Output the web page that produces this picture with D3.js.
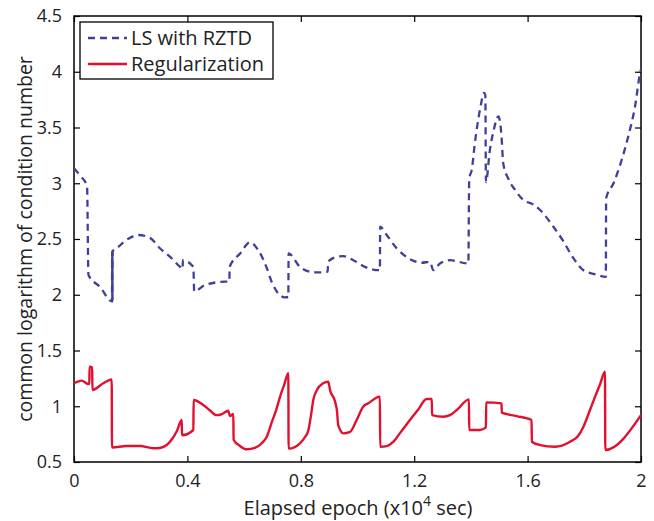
<!DOCTYPE html>
<html>
<head>
<meta charset="utf-8">
<script src="https://cdn.jsdelivr.net/npm/d3@7"></script>
<style>
  html, body { margin: 0; padding: 0; background: #ffffff; }
  svg { display: block; }
  text { font-family: "Open Sans", "Noto Sans", sans-serif; fill: #222; }
</style>
</head>
<body>
<svg id="chart" width="654" height="521"></svg>
<script>
// Elapsed epoch (x10^4 s) and log10 condition number, LS with RZTD
const epochLS = [0, 0.021, 0.046, 0.051, 0.092, 0.134, 0.1345, 0.135, 0.1355, 0.136, 0.1365,
  0.156, 0.19, 0.227, 0.268, 0.303, 0.339, 0.374, 0.383, 0.384, 0.421, 0.424,
  0.462, 0.533, 0.548, 0.549, 0.586, 0.621, 0.65, 0.68, 0.697, 0.721, 0.744, 0.756, 0.757,
  0.797, 0.832, 0.862, 0.895, 0.896, 0.927, 0.95, 0.985, 1.026, 1.079, 1.08,
  1.103, 1.138, 1.185, 1.226, 1.256, 1.267, 1.291, 1.326, 1.391, 1.394,
  1.403, 1.414, 1.432, 1.447, 1.451, 1.453, 1.467, 1.479, 1.497, 1.508, 1.514, 1.532, 1.556,
  1.585, 1.62, 1.644, 1.691, 1.726, 1.761, 1.797, 1.844, 1.876, 1.877,
  1.903, 1.932, 1.955, 1.979, 1.997, 2.0];
const condLS = [3.134, 3.07, 2.975, 2.177, 2.07, 1.94, 2.39, 1.95, 2.38, 1.96, 2.39,
  2.43, 2.5, 2.536, 2.51, 2.417, 2.34, 2.25, 2.23, 2.31, 2.25, 2.03,
  2.087, 2.117, 2.117, 2.25, 2.37, 2.47, 2.40, 2.24, 2.117, 2.01, 1.977, 1.98, 2.37,
  2.25, 2.207, 2.20, 2.207, 2.296, 2.34, 2.347, 2.31, 2.25, 2.22, 2.61,
  2.536, 2.417, 2.32, 2.287, 2.296, 2.22, 2.28, 2.31, 2.28, 3.04,
  3.12, 3.36, 3.66, 3.81, 3.79, 3.01, 3.30, 3.46, 3.60, 3.42, 3.18, 3.04, 2.94,
  2.85, 2.81, 2.76, 2.61, 2.48, 2.33, 2.22, 2.18, 2.16, 2.865,
  3.0, 3.21, 3.42, 3.69, 3.99, 4.02];

// Elapsed epoch (x10^4 s) and log10 condition number, Regularization
const epochReg = [0, 0.027, 0.05, 0.054, 0.055, 0.064, 0.065, 0.103, 0.133, 0.134,
  0.186, 0.233, 0.28, 0.303, 0.327, 0.346, 0.363, 0.38, 0.381, 0.421, 0.422,
  0.456, 0.48, 0.503, 0.522, 0.544, 0.55, 0.562, 0.563,
  0.586, 0.609, 0.638, 0.663, 0.68, 0.698, 0.713, 0.727, 0.741, 0.756, 0.757,
  0.797, 0.815, 0.827, 0.836, 0.844, 0.857, 0.879, 0.897, 0.903, 0.921, 0.928, 0.932, 0.95,
  0.974, 0.997, 1.02, 1.038, 1.079, 1.08,
  1.103, 1.126, 1.153, 1.185, 1.213, 1.244, 1.262, 1.263,
  1.303, 1.326, 1.35, 1.393, 1.394, 1.432, 1.453, 1.454, 1.508, 1.509,
  1.561, 1.614, 1.615, 1.644, 1.697, 1.75, 1.778, 1.797, 1.82, 1.838, 1.856, 1.873, 1.874, 2.0];
const condReg = [1.206, 1.23, 1.20, 1.20, 1.355, 1.35, 1.146, 1.206, 1.24, 0.63,
  0.643, 0.643, 0.623, 0.626, 0.652, 0.706, 0.778, 0.877, 0.74, 0.787, 1.056,
  1.011, 0.962, 0.92, 0.93, 0.96, 0.913, 0.93, 0.70,
  0.643, 0.614, 0.626, 0.67, 0.727, 0.859, 0.966, 1.086, 1.19, 1.296, 0.62,
  0.668, 0.724, 0.787, 0.92, 1.056, 1.146, 1.206, 1.22, 1.146, 1.04, 0.95, 0.83, 0.757,
  0.77, 0.877, 0.996, 1.026, 1.086, 0.637,
  0.643, 0.68, 0.77, 0.877, 0.966, 1.065, 1.065, 0.92,
  0.906, 0.92, 0.966, 1.062, 0.787, 0.787, 0.81, 1.035, 1.026, 0.942,
  0.912, 0.877, 0.682, 0.652, 0.637, 0.682, 0.733, 0.817, 0.966, 1.086, 1.2, 1.31, 0.608, 0.92];

const xTicks = [0, 0.4, 0.8, 1.2, 1.6, 2];
const yTicks = [0.5, 1, 1.5, 2, 2.5, 3, 3.5, 4, 4.5];
const seriesNames = ["LS with RZTD", "Regularization"];
const seriesColors = ["#40409a", "#e2102f"];

const svg = d3.select("#chart");
const m = { left: 74, top: 16, right: 641, bottom: 462 };

const x = d3.scaleLinear().domain([0, 2]).range([m.left, m.right]);
const y = d3.scaleLinear().domain([0.5, 4.5]).range([m.bottom, m.top]);

const tickLen = 6;

// Axes with inward ticks on all four sides
const gAxes = svg.append("g");
gAxes.append("g")
  .attr("transform", `translate(0,${m.bottom})`)
  .call(d3.axisBottom(x).tickValues(xTicks).tickSizeInner(-tickLen).tickSizeOuter(0).tickPadding(12).tickFormat(d3.format("")));
gAxes.append("g")
  .attr("transform", `translate(0,${m.top})`)
  .call(d3.axisTop(x).tickValues(xTicks).tickSizeInner(-tickLen).tickSizeOuter(0).tickFormat(""));
gAxes.append("g")
  .attr("transform", `translate(${m.left},0)`)
  .call(d3.axisLeft(y).tickValues(yTicks).tickSizeInner(-tickLen).tickSizeOuter(0).tickPadding(12).tickFormat(d3.format("")));
gAxes.append("g")
  .attr("transform", `translate(${m.right},0)`)
  .call(d3.axisRight(y).tickValues(yTicks).tickSizeInner(-tickLen).tickSizeOuter(0).tickFormat(""));

gAxes.selectAll(".domain").remove();
gAxes.selectAll(".tick line").attr("stroke", "#000").attr("stroke-width", 1.2);
gAxes.selectAll(".tick text").style("font-size", "18px").style("font-family", "'Open Sans', sans-serif").attr("fill", "#222");

svg.append("rect")
  .attr("x", m.left).attr("y", m.top)
  .attr("width", m.right - m.left).attr("height", m.bottom - m.top)
  .attr("fill", "none").attr("stroke", "#000").attr("stroke-width", 1.5);

// Curves
const line = d3.line().x(d => x(d[0])).y(d => y(d[1])).curve(d3.curveMonotoneX);
const lsData = epochLS.map((e, i) => [e, condLS[i]]);
const regData = epochReg.map((e, i) => [e, condReg[i]]);

const plot = svg.append("g");
plot.append("path").datum(regData)
  .attr("d", line).attr("fill", "none")
  .attr("stroke", seriesColors[1]).attr("stroke-width", 2.4)
  .attr("stroke-linejoin", "round");
plot.append("path").datum(lsData)
  .attr("d", line).attr("fill", "none")
  .attr("stroke", seriesColors[0]).attr("stroke-width", 2.3)
  .attr("stroke-dasharray", "7,5");

// Legend
const lg = svg.append("g");
lg.append("rect").attr("x", 80).attr("y", 22).attr("width", 193).attr("height", 57)
  .attr("fill", "#fff").attr("stroke", "#000").attr("stroke-width", 1.3);
const rows = [38, 64];
seriesNames.forEach((name, i) => {
  const l = lg.append("line").attr("x1", 88).attr("x2", 127).attr("y1", rows[i]).attr("y2", rows[i])
    .attr("stroke", seriesColors[i]).attr("stroke-width", 2.3);
  if (i === 0) l.attr("stroke-dasharray", "7,5");
  lg.append("text").attr("x", 131).attr("y", rows[i]).attr("dy", "0.36em")
    .style("font-size", "20px").text(name);
});

// Axis titles
const xl = svg.append("text").attr("x", 358).attr("y", 515).attr("text-anchor", "middle")
  .style("font-size", "20px");
xl.append("tspan").text("Elapsed epoch (x10");
xl.append("tspan").attr("dy", "-9").style("font-size", "14px").text("4");
xl.append("tspan").attr("dy", "9").text(" sec)");

svg.append("text")
  .attr("transform", "translate(32,239) rotate(-90)")
  .attr("text-anchor", "middle")
  .style("font-size", "19.5px")
  .text("common logarithm of condition number");
</script>
</body>
</html>
